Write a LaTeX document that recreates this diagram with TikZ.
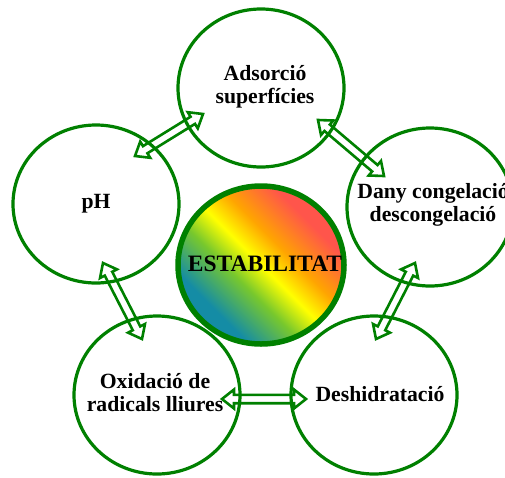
\documentclass[tikz,border=0pt]{standalone}
\usepackage{fontspec}
\setmainfont{Liberation Serif}
\usetikzlibrary{shapes.geometric,calc}
\definecolor{ringgreen}{RGB}{0,128,0}
\definecolor{gteal}{RGB}{20,140,165}
\definecolor{ggreen}{RGB}{120,200,45}
\definecolor{gyellow}{RGB}{255,255,0}
\definecolor{gorange}{RGB}{255,165,0}
\definecolor{gred}{RGB}{255,85,75}
\pgfdeclareverticalshading{estab}{100bp}{color(0bp)=(gteal); color(30bp)=(gteal); color(42bp)=(ggreen); color(50bp)=(gyellow); color(58bp)=(gorange); color(70bp)=(gred); color(100bp)=(gred)}
\tikzset{
  ring/.style={ellipse, draw=ringgreen, line width=3.2pt, minimum width=166pt, minimum height=158pt, inner sep=0pt},
  centerring/.style={ring, line width=5.5pt, shade, shading=estab, shading angle=-45},
  lbl/.style={font=\fontsize{21.7}{23}\selectfont\bfseries, align=center, inner sep=0pt},
  biglbl/.style={font=\fontsize{23.5}{25}\selectfont\bfseries, align=center, inner sep=0pt},
  arrowline/.style={draw=ringgreen, line width=2.6pt, line join=miter}
}
\newcommand\mkhollowarrow[2]{%
  \coordinate (#1h) at ($(#1)!12pt!(#2)$);
  \coordinate (#2h) at ($(#2)!12pt!(#1)$);
  \draw[arrowline] (#1) -- ($(#1h)!9.5pt!90:(#2)$) -- ($(#1h)!4.2pt!90:(#2)$)
    -- ($(#2h)!4.2pt!-90:(#1)$) -- ($(#2h)!9.5pt!-90:(#1)$) -- (#2)
    -- ($(#2h)!9.5pt!90:(#1)$) -- ($(#2h)!4.2pt!90:(#1)$)
    -- ($(#1h)!4.2pt!-90:(#2)$) -- ($(#1h)!9.5pt!-90:(#2)$) -- cycle;}
\begin{document}
\begin{tikzpicture}[x=1pt,y=-1pt]
\useasboundingbox (0,0) rectangle (505,477);
% outer rings
\node[ring] (ads) at (261,88) {};
\node[ring] (ph) at (96,204) {};
\node[ring] (dany) at (430,207) {};
\node[ring] (oxi) at (157,395) {};
\node[ring] (desh) at (374,395) {};
% centre
\node[centerring] (est) at (261,265) {};
% labels
\node[lbl] (adsT) at ([xshift=4pt,yshift=1pt]ads.center) {Adsorció\\superfícies};
\node[lbl] (phT) at (ph.center) {pH};
\node[lbl] (danyT) at ([xshift=3pt,yshift=2pt]dany.center) {Dany congelació\\descongelació};
\node[lbl] (oxiT) at ([xshift=-2pt,yshift=2pt]oxi.center) {Oxidació de\\radicals lliures};
\node[lbl] (deshT) at ([xshift=6pt,yshift=1pt]desh.center) {Deshidratació};
\node[biglbl] (estT) at ([xshift=4pt,yshift=1pt]est.center) {ESTABILITAT};
% arrow end points
\coordinate (a1s) at (135,156); \coordinate (a1e) at (203,114);
\coordinate (a2s) at (318,120); \coordinate (a2e) at (384,176);
\coordinate (a3s) at (415,263); \coordinate (a3e) at (376,339);
\coordinate (a4s) at (222,399); \coordinate (a4e) at (306,399);
\coordinate (a5s) at (103,263); \coordinate (a5e) at (142,339);
\mkhollowarrow{a1s}{a1e}
\mkhollowarrow{a2s}{a2e}
\mkhollowarrow{a3s}{a3e}
\mkhollowarrow{a4s}{a4e}
\mkhollowarrow{a5s}{a5e}
\end{tikzpicture}
\end{document}
